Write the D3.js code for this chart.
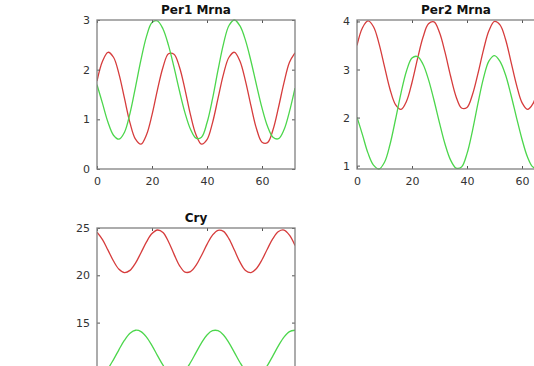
<!DOCTYPE html>
<html>
<head>
<meta charset="utf-8">
<script src="https://cdn.jsdelivr.net/npm/d3@7"></script>
<style>
body{margin:0;background:#fff}
svg{display:block}
</style>
</head>
<body>
<svg id="chart" width="534" height="366"></svg>
<script>
var hours = [0,2,4,6,8,10,12,14,16,18,20,22,24,26,28,30,32,34,36,38,40,42,44,46,48,50,52,54,56,58,60,62,64,66,68,70,72]

var per1Red = [1.77,2.17,2.35,2.25,1.91,1.42,0.93,0.60,0.50,0.69,1.09,1.60,2.05,2.32,2.31,2.05,1.60,1.09,0.69,0.50,0.59,0.93,1.42,1.91,2.25,2.35,2.17,1.77,1.27,0.81,0.54,0.53,0.79,1.24,1.74,2.15,2.34]
var per1Green = [1.70,1.32,0.94,0.68,0.60,0.74,1.12,1.65,2.20,2.67,2.95,2.98,2.82,2.49,2.05,1.57,1.13,0.80,0.62,0.64,0.93,1.41,1.99,2.52,2.89,3.00,2.88,2.59,2.17,1.69,1.23,0.86,0.64,0.61,0.79,1.16,1.63]

var per2Red = [3.50,3.87,4.01,3.89,3.54,3.06,2.59,2.27,2.17,2.34,2.73,3.22,3.67,3.95,3.99,3.77,3.36,2.87,2.44,2.20,2.21,2.48,2.92,3.41,3.81,4.00,3.93,3.63,3.16,2.68,2.31,2.17,2.29,2.64,3.12,3.59,3.92]
var per2Green = [2.01,1.64,1.26,1.01,0.93,1.07,1.44,1.96,2.51,2.97,3.24,3.27,3.11,2.79,2.36,1.89,1.45,1.12,0.95,0.97,1.25,1.73,2.30,2.82,3.18,3.29,3.17,2.89,2.47,2.00,1.55,1.18,0.97,0.94,1.12,1.48,1.95]

var cryRed = [24.55,23.77,22.66,21.51,20.64,20.28,20.52,21.29,22.39,23.53,24.41,24.79,24.52,23.55,22.24,21.03,20.34,20.39,21.04,22.10,23.27,24.25,24.76,24.64,23.85,22.64,21.39,20.51,20.29,20.72,21.64,22.81,23.90,24.63,24.78,24.24,23.15]
var cryGreen = [9.30,9.51,10.15,11.09,12.15,13.14,13.87,14.19,14.05,13.47,12.57,11.51,10.50,9.72,9.33,9.40,9.91,10.78,11.83,12.86,13.69,14.14,14.14,13.69,12.86,11.83,10.78,9.92,9.40,9.33,9.72,10.49,11.51,12.57,13.47,14.05,14.19]

var xTicks = [0,20,40,60]
var per1YTicks = [0,1,2,3]
var per2YTicks = [1,2,3,4]
var cryYTicks = [10,15,20,25]

var panels = [
	{title:'Per1 Mrna', left:97, top:20, ydom:[0,3], yticks:per1YTicks, red:per1Red, green:per1Green},
	{title:'Per2 Mrna', left:357, top:20, ydom:[0.93,4.03], yticks:per2YTicks, red:per2Red, green:per2Green},
	{title:'Cry', left:97, top:228, ydom:[9.25,25], yticks:cryYTicks, red:cryRed, green:cryGreen}
]

var pw = 198
var ph = 149
var svg = d3.select('svg#chart')
var H = parseInt(svg.attr('height'))

panels.forEach(function(p, k){
	var x = d3.scaleLinear().domain([0,72]).range([p.left, p.left + pw])
	var y = d3.scaleLinear().domain(p.ydom).range([p.top + ph, p.top])
	var g = svg.append('g')

	g.append('clipPath').attr('id','clip' + k)
	.append('rect')
	.attr('x', p.left).attr('y', p.top - 1)
	.attr('width', pw).attr('height', ph + 2)

	var line = d3.line()
	.x(function(d, i){ return x(hours[i]) })
	.y(function(d){ return y(d) })
	.curve(d3.curveCatmullRom)

	g.append('path').datum(p.red)
	.attr('d', line)
	.attr('fill','none')
	.attr('stroke','#d63c3c')
	.attr('stroke-width',1.3)
	.attr('clip-path','url(#clip' + k + ')')

	g.append('path').datum(p.green)
	.attr('d', line)
	.attr('fill','none')
	.attr('stroke','#4cd64c')
	.attr('stroke-width',1.3)
	.attr('clip-path','url(#clip' + k + ')')

	// axes with inward ticks, matlab style box
	var ax = d3.axisBottom(x).tickValues(xTicks).tickSize(-3).tickPadding(8).tickFormat(d3.format('d'))
	var axTop = d3.axisTop(x).tickValues(xTicks).tickSize(-3).tickFormat('')
	var ay = d3.axisLeft(y).tickValues(p.yticks).tickSize(-3).tickPadding(7).tickFormat(d3.format('d'))
	var ayRight = d3.axisRight(y).tickValues(p.yticks).tickSize(-3).tickFormat('')

	// bottom labels of the lower panel fall below the page, like the reference
	if(p.top + ph + 10 < H){
		g.append('g').attr('transform','translate(0,' + (p.top + ph) + ')').call(ax)
	}
	g.append('g').attr('transform','translate(0,' + p.top + ')').call(axTop)
	g.append('g').attr('transform','translate(' + p.left + ',0)').call(ay)
	g.append('g').attr('transform','translate(' + (p.left + pw) + ',0)').call(ayRight)

	g.selectAll('.domain').remove()
	g.selectAll('.tick line').attr('stroke','#555').attr('stroke-width',1)
	g.selectAll('.tick text')
	.attr('fill','#333')
	.style('font-family','"DejaVu Sans", sans-serif')
	.style('font-size','11px')

	g.append('rect')
	.attr('x', p.left).attr('y', p.top)
	.attr('width', pw).attr('height', ph)
	.attr('fill','none')
	.attr('stroke','#808080')
	.attr('stroke-width',1.3)

	g.append('text')
	.attr('x', p.left + pw / 2)
	.attr('y', p.top - 6)
	.attr('text-anchor','middle')
	.style('font-family','"DejaVu Sans", sans-serif')
	.style('font-size','12px')
	.style('font-weight','bold')
	.attr('fill','#111')
	.text(p.title)
})
</script>
</body>
</html>
